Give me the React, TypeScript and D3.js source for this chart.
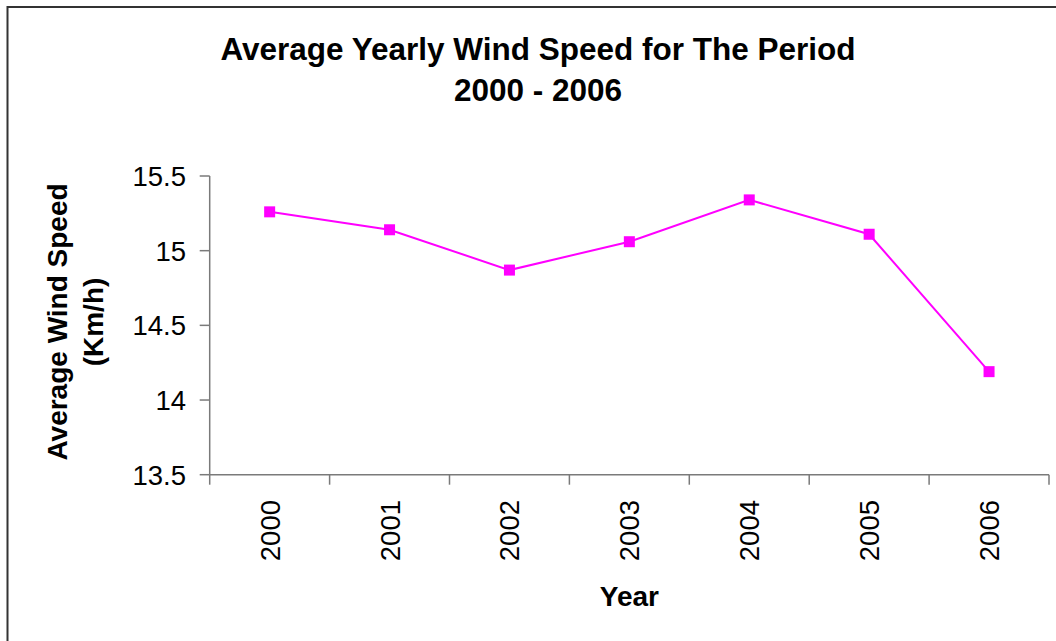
import React from "react";
import * as d3 from "d3";

const years = ["2000", "2001", "2002", "2003", "2004", "2005", "2006"];
const windSpeed = [15.26, 15.14, 14.87, 15.06, 15.34, 15.11, 14.19];
const yTicks = [13.5, 14, 14.5, 15, 15.5];
const titleLines = ["Average Yearly Wind Speed for The Period", "2000 - 2006"];
const yLabelLines = ["Average Wind Speed", "(Km/h)"];
const xLabel = "Year";

const W = 1056;
const H = 641;
const plot = { left: 209.7, right: 1049, top: 176, bottom: 474.7 };
const FONT = "'Liberation Sans', Arial, sans-serif";

export default function App() {
  const x = d3.scaleBand<string>().domain(years).range([plot.left, plot.right]);
  const y = d3.scaleLinear().domain([13.5, 15.5]).range([plot.bottom, plot.top]);
  const line = d3
    .line<number>()
    .x((_, i) => (x(years[i]) as number) + x.bandwidth() / 2)
    .y((d) => y(d));
  const axisColor = "#7a7a7a";
  const ms = 11;

  const tickXs = [...years.map((c) => x(c) as number), plot.right];

  return (
    <svg
      width={W}
      height={H}
      style={{ position: "absolute", left: 0, top: 0, background: "#fff" }}
      fontFamily={FONT}
    >
      <rect x={0} y={0} width={W} height={H} fill="#fff" />
      <rect x={7.5} y={7} width={W + 20} height={H + 20} fill="none" stroke="#333" strokeWidth={2} />

      {/* title */}
      {titleLines.map((t, i) => (
        <text
          key={t}
          x={538}
          y={59.5 + i * 41}
          textAnchor="middle"
          fontSize={31.5}
          fontWeight="bold"
          fill="#000"
        >
          {t}
        </text>
      ))}

      {/* y axis */}
      <line x1={plot.left} x2={plot.left} y1={plot.top} y2={plot.bottom} stroke={axisColor} strokeWidth={1.5} />
      {yTicks.map((t) => (
        <g key={t}>
          <line x1={plot.left - 10} x2={plot.left} y1={y(t)} y2={y(t)} stroke={axisColor} strokeWidth={1.5} />
          <text x={186} y={y(t) + 10} textAnchor="end" fontSize={27.5} fill="#000">
            {t}
          </text>
        </g>
      ))}

      {/* x axis */}
      <line x1={plot.left} x2={plot.right} y1={plot.bottom} y2={plot.bottom} stroke={axisColor} strokeWidth={1.5} />
      {tickXs.map((tx, i) => (
        <line key={i} x1={tx} x2={tx} y1={plot.bottom} y2={plot.bottom + 10} stroke={axisColor} strokeWidth={1.5} />
      ))}
      {years.map((c) => {
        const cx = (x(c) as number) + x.bandwidth() / 2;
        return (
          <text
            key={c}
            transform={`translate(${cx + 10},500) rotate(-90)`}
            textAnchor="end"
            fontSize={27.5}
            fill="#000"
          >
            {c}
          </text>
        );
      })}

      {/* axis titles */}
      {yLabelLines.map((t, i) => (
        <text
          key={t}
          transform={`translate(${67 + i * 36},${322}) rotate(-90)`}
          textAnchor="middle"
          fontSize={28}
          fontWeight="bold"
          fill="#000"
        >
          {t}
        </text>
      ))}
      <text x={(plot.left + plot.right) / 2} y={606} textAnchor="middle" fontSize={28} fontWeight="bold" fill="#000">
        {xLabel}
      </text>

      {/* series */}
      <path d={line(windSpeed) || ""} fill="none" stroke="#ff00ff" strokeWidth={2} />
      {windSpeed.map((v, i) => {
        const cx = (x(years[i]) as number) + x.bandwidth() / 2;
        return <rect key={i} x={cx - ms / 2} y={y(v) - ms / 2} width={ms} height={ms} fill="#ff00ff" />;
      })}
    </svg>
  );
}
